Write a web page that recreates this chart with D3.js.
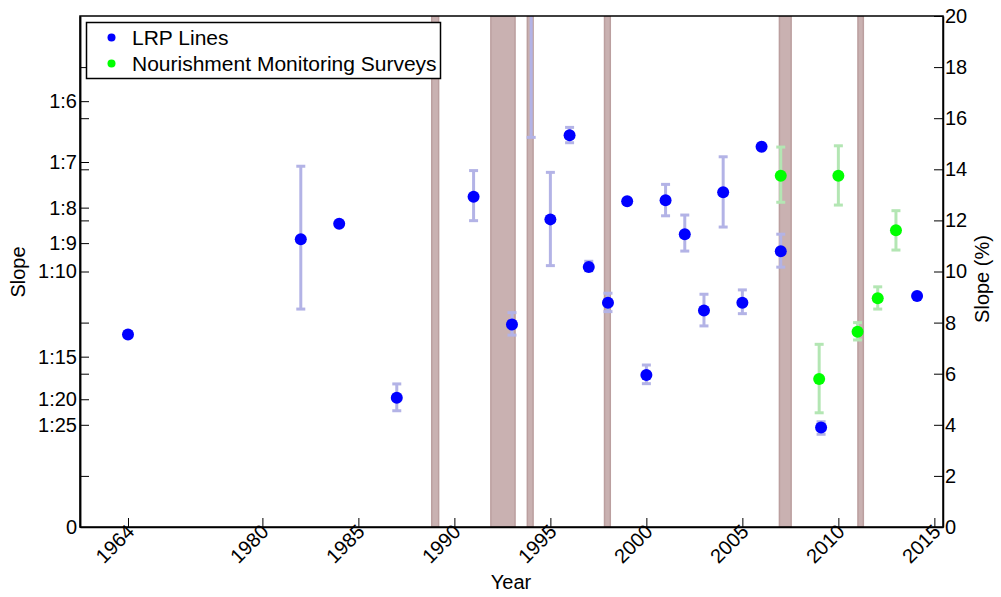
<!DOCTYPE html>
<html>
<head>
    <meta charset="UTF-8">
    <title>Slope by year</title>
    <script type="text/javascript" src="https://cdn.jsdelivr.net/npm/d3@7"></script>
    <style>
        body { margin: 0; background: #fff; }
        svg { display: block; font-family: "Liberation Sans", Arial, sans-serif; }
    </style>
</head>
<body>
    <div id="chart"></div>

    <script>
        // LRP lines (slope in %, with error range)
        var lrpYears = [1964, 1982, 1984, 1987, 1991, 1993, 1994, 1995, 1996, 1997, 1998, 1999, 2000, 2001, 2002, 2003, 2004, 2005, 2006, 2007, 2009.1, 2014.1];
        var lrpSlope = [7.53, 11.26, 11.87, 5.06, 12.93, 7.93, 24, 12.04, 15.33, 10.18, 8.78, 12.75, 5.95, 12.79, 11.46, 8.47, 13.1, 8.78, 14.88, 10.79, 3.89, 9.04];
        var lrpLow   = [null, 8.53, null, 4.55, 11.99, 7.51, 15.25, 10.23, 15.04, 10.03, 8.43, null, 5.61, 12.18, 10.8, 7.87, 11.74, 8.35, null, 10.17, 3.63, null];
        var lrpHigh  = [null, 14.12, null, 5.6, 13.95, 8.39, 30, 13.88, 15.64, 10.4, 9.15, null, 6.34, 13.41, 12.21, 9.11, 14.49, 9.28, null, 11.46, 4.12, null];

        // nourishment monitoring surveys
        var nmsYears = [2007, 2009, 2010, 2011, 2012.05, 2013];
        var nmsSlope = [13.75, 5.79, 13.75, 7.64, 8.95, 11.61];
        var nmsLow   = [12.71, 4.47, 12.6, 7.32, 8.53, 10.84];
        var nmsHigh  = [14.87, 7.15, 14.92, 8.0, 9.4, 12.38];

        // nourishment periods (start, end year)
        var bandStart = [1988.82, 1991.9, 1993.8, 1997.82, 2006.93, 2011.02];
        var bandEnd   = [1989.18, 1993.16, 1994.1, 1998.12, 2007.54, 2011.3];

        var xTicks = [1964, 1980, 1985, 1990, 1995, 2000, 2005, 2010, 2015];
        var rightTicks = [0, 2, 4, 6, 8, 10, 12, 14, 16, 18, 20];
        var slopeRatios = [6, 7, 8, 9, 10, 15, 20, 25];
        var leftMinor = [2, 6, 8, 12, 14, 16, 18];

        var width = 1001, height = 597;
        var margin = {left: 80, right: 58, top: 16, bottom: 70};
        var plotW = width - margin.left - margin.right;
        var plotH = height - margin.top - margin.bottom;

        var svg = d3.select("#chart").append("svg")
            .attr("width", width).attr("height", height);

        var x = d3.scaleLinear().domain([1970.5, 2015.45]).range([margin.left, margin.left + plotW]);
        var y = d3.scaleLinear().domain([0, 20]).range([margin.top + plotH, margin.top]);

        // the axis is broken: 1964 sits in the slot of 1973
        function xpos(yr) { return x(yr < 1975 ? yr + 9 : yr); }

        svg.append("defs").append("clipPath").attr("id", "plotclip")
            .append("rect")
            .attr("x", margin.left).attr("y", margin.top)
            .attr("width", plotW).attr("height", plotH);

        var plot = svg.append("g").attr("clip-path", "url(#plotclip)");

        plot.selectAll(".band")
            .data(d3.range(bandStart.length))
            .enter().append("rect")
            .attr("class", "band")
            .attr("x", function (i) { return x(bandStart[i]); })
            .attr("width", function (i) { return x(bandEnd[i]) - x(bandStart[i]); })
            .attr("y", margin.top)
            .attr("height", plotH)
            .attr("fill", "#c9b1b1")
            .attr("stroke", "#bb9f9f")
            .attr("stroke-width", 1.5);

        function series(years, vals, lo, hi, dotColor, barColor) {
            var rows = years.map(function (d, i) {
                return {year: d, v: vals[i], lo: lo[i], hi: hi[i]};
            });
            var withErr = rows.filter(function (d) { return d.lo !== null; });

            var eb = plot.append("g").attr("stroke", barColor).attr("stroke-width", 3).attr("fill", "none");
            eb.selectAll(".stem").data(withErr).enter().append("line")
                .attr("x1", function (d) { return xpos(d.year); })
                .attr("x2", function (d) { return xpos(d.year); })
                .attr("y1", function (d) { return y(d.lo); })
                .attr("y2", function (d) { return y(d.hi); });
            ["lo", "hi"].forEach(function (k) {
                eb.selectAll(".cap-" + k).data(withErr).enter().append("line")
                    .attr("x1", function (d) { return xpos(d.year) - 4.5; })
                    .attr("x2", function (d) { return xpos(d.year) + 4.5; })
                    .attr("y1", function (d) { return y(d[k]); })
                    .attr("y2", function (d) { return y(d[k]); });
            });

            plot.append("g").selectAll("circle").data(rows).enter().append("circle")
                .attr("cx", function (d) { return xpos(d.year); })
                .attr("cy", function (d) { return y(d.v); })
                .attr("r", 6)
                .attr("fill", dotColor);
        }

        series(lrpYears, lrpSlope, lrpLow, lrpHigh, "#0000ff", "#b3b3e6");
        series(nmsYears, nmsSlope, nmsLow, nmsHigh, "#00ff00", "#b3e6b3");

        // frame
        svg.append("rect")
            .attr("x", margin.left).attr("y", margin.top)
            .attr("width", plotW).attr("height", plotH)
            .attr("fill", "none").attr("stroke", "#000").attr("stroke-width", 1.5);

        // bottom axis
        var xAxis = svg.append("g")
            .attr("transform", "translate(0," + (margin.top + plotH) + ")")
            .call(d3.axisBottom(x).tickValues(xTicks.map(function (d) { return d < 1975 ? d + 9 : d; }))
                .tickSize(-9).tickSizeOuter(0)
                .tickFormat(function (d, i) { return xTicks[i]; }));
        xAxis.selectAll("text")
            .attr("font-size", 20).attr("fill", "#000")
            .attr("text-anchor", "end")
            .attr("dy", null)
            .attr("x", 0).attr("y", 0)
            .attr("transform", "translate(7,6) rotate(-45)");

        // left axis: slope ratios
        var leftVals = slopeRatios.map(function (n) { return 100 / n; }).concat([0]);
        var leftLabels = slopeRatios.map(function (n) { return "1:" + n; }).concat(["0"]);
        svg.append("g")
            .attr("transform", "translate(" + margin.left + ",0)")
            .call(d3.axisLeft(y).tickValues(leftMinor).tickSize(-9).tickSizeOuter(0).tickFormat(""));
        var yLeft = svg.append("g")
            .attr("transform", "translate(" + margin.left + ",0)")
            .call(d3.axisLeft(y).tickValues(leftVals).tickSize(-9).tickSizeOuter(0).tickPadding(3)
                .tickFormat(function (d, i) { return leftLabels[i]; }));
        yLeft.selectAll("text").attr("font-size", 20).attr("fill", "#000");

        // right axis: percent
        var yRight = svg.append("g")
            .attr("transform", "translate(" + (margin.left + plotW) + ",0)")
            .call(d3.axisRight(y).tickValues(rightTicks).tickSize(-9).tickSizeOuter(0).tickPadding(2));
        yRight.selectAll("text").attr("font-size", 20).attr("fill", "#000");

        svg.selectAll(".domain").attr("stroke-width", 1.5);

        // axis titles
        svg.append("text").attr("x", 511).attr("y", 589)
            .attr("text-anchor", "middle").attr("font-size", 20).text("Year");
        svg.append("text").attr("transform", "translate(25,272) rotate(-90)")
            .attr("text-anchor", "middle").attr("font-size", 20).text("Slope");
        svg.append("text").attr("transform", "translate(989,279) rotate(-90)")
            .attr("text-anchor", "middle").attr("font-size", 20).text("Slope (%)");

        // legend
        var lg = svg.append("g");
        lg.append("rect").attr("x", 86.5).attr("y", 22.5).attr("width", 354).attr("height", 56)
            .attr("fill", "#fff").attr("stroke", "#000").attr("stroke-width", 1.5);
        var legendNames = ["LRP Lines", "Nourishment Monitoring Surveys"];
        var legendColors = ["#0000ff", "#00ff00"];
        legendNames.forEach(function (name, i) {
            lg.append("circle").attr("cx", 111.5).attr("cy", 37.5 + i * 26).attr("r", 4).attr("fill", legendColors[i]);
            lg.append("text").attr("x", 132).attr("y", 44.5 + i * 26).attr("font-size", 21).text(name);
        });
    </script>
</body>
</html>
